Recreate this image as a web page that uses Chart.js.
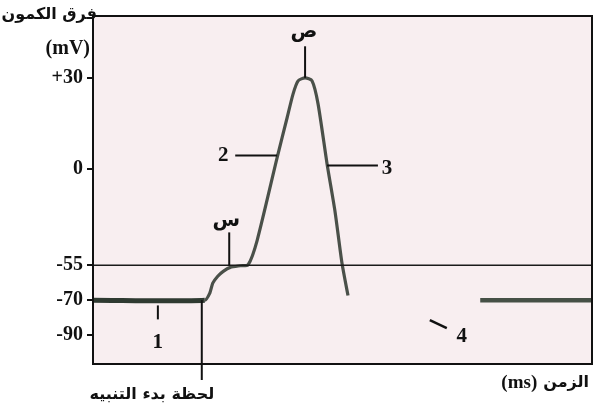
<!DOCTYPE html>
<html>
<head>
<meta charset="utf-8">
<script src="https://cdn.jsdelivr.net/npm/chart.js@4/dist/chart.umd.min.js"></script>
<style>
  html, body { margin: 0; padding: 0; background: #ffffff; }
  #wrap { width: 598px; height: 410px; }
</style>
</head>
<body>
<div id="wrap"><canvas id="c" width="598" height="410"></canvas></div>
<script>
// Action potential trace (time in ms, membrane potential in mV)
const TIME_MS = [0, 22.4, 23.4, 24.0, 25.0, 26.1, 27.5, 29.5, 31.1, 32.9, 36.9, 38.9, 40.1, 41.1, 42.5, 43.9, 45.1, 46.9, 48.5, 49.9, 51.1];
const POTENTIAL_MV = [-70, -70, -67, -62.7, -59.7, -57.6, -55.9, -55.2, -54.7, -40.8, 3.6, 16.8, 24.7, 29.0, 30, 29.0, 21.4, 1.6, -24.4, -53.9, -68];

// Return to rest after the hyperpolarisation phase
const RECOVERY_TIME_MS = [77.6, 100];
const RECOVERY_MV = [-70, -70];

// Threshold potential
const THRESHOLD_MV = -55;
const THRESHOLD_SPAN_MS = [0, 100];

// Stimulation moment
const STIMULUS_MS = 21.8;

// Labelled potentials on the vertical axis
const Y_TICKS = [30, 0, -55, -70, -90];

const AXIS_TITLE_Y = 'فرق الكمون';
const AXIS_UNIT_Y = '(mV)';
const AXIS_TITLE_X = 'الزمن';
const AXIS_UNIT_X = '(ms)';
const STIMULUS_LABEL = 'لحظة بدء التنبيه';

const SERIF = '"Liberation Serif", "Times New Roman", serif';
const ARABIC = '"DejaVu Sans", sans-serif';

// Schematic (non-uniform) voltage axis: piecewise-linear between labelled potentials
class PiecewiseScale extends Chart.LinearScale {
  _pw() {
    const b = this.options.breaks;
    return { v: b.values, d: b.decimals };
  }
  toDecimal(value) {
    const { v, d } = this._pw();
    let i = 0;
    if (value <= v[0]) i = 0;
    else if (value >= v[v.length - 1]) i = v.length - 2;
    else { while (i < v.length - 2 && value > v[i + 1]) i++; }
    const t = (value - v[i]) / (v[i + 1] - v[i]);
    return d[i] + t * (d[i + 1] - d[i]);
  }
  fromDecimal(dec) {
    const { v, d } = this._pw();
    let i = 0;
    if (dec <= d[0]) i = 0;
    else if (dec >= d[d.length - 1]) i = d.length - 2;
    else { while (i < d.length - 2 && dec > d[i + 1]) i++; }
    const t = (dec - d[i]) / (d[i + 1] - d[i]);
    return v[i] + t * (v[i + 1] - v[i]);
  }
  getPixelForValue(value) {
    return this.getPixelForDecimal(this.toDecimal(value));
  }
  getValueForPixel(pixel) {
    return this.fromDecimal(this.getDecimalForPixel(pixel));
  }
}
PiecewiseScale.id = 'piecewise';
PiecewiseScale.defaults = Chart.LinearScale.defaults;
Chart.register(PiecewiseScale);

const toPoints = (xs, ys) => xs.map((x, i) => ({ x, y: ys[i] }));

const decor = {
  id: 'decor',
  beforeDraw(chart) {
    const { ctx, chartArea: a } = chart;
    ctx.save();
    ctx.fillStyle = '#ffffff';
    ctx.fillRect(0, 0, chart.width, chart.height);
    ctx.fillStyle = '#f8eef0';
    ctx.fillRect(a.left, a.top, a.right - a.left, a.bottom - a.top);
    ctx.restore();
  },
  afterDraw(chart) {
    const { ctx, chartArea: a, scales } = chart;
    const X = v => scales.x.getPixelForValue(v);
    const Y = v => scales.y.getPixelForValue(v);
    ctx.save();

    // frame
    ctx.strokeStyle = '#111111';
    ctx.lineWidth = 2;
    ctx.strokeRect(a.left, a.top, a.right - a.left, a.bottom - a.top);

    // stimulation marker
    ctx.lineWidth = 2;
    ctx.beginPath();
    ctx.moveTo(X(STIMULUS_MS), Y(-70));
    ctx.lineTo(X(STIMULUS_MS), a.bottom + 16);
    ctx.stroke();

    const seg = (x1, y1, x2, y2, w) => {
      ctx.lineWidth = w || 2;
      ctx.beginPath();
      ctx.moveTo(X(x1), Y(y1));
      ctx.lineTo(X(x2), Y(y2));
      ctx.stroke();
    };
    // leader lines
    seg(13, -73, 13, -81);             // 1
    seg(28.5, 4.3, 36.9, 4.3);         // 2
    seg(46.9, 1.0, 57.1, 1.0);         // 3
    seg(67.5, -81.4, 70.9, -86, 2.5);  // 4
    seg(27.3, -36.3, 27.3, -55);       // س
    seg(42.5, 40.2, 42.5, 30);         // ص

    ctx.fillStyle = '#111111';
    ctx.textAlign = 'center';
    ctx.textBaseline = 'middle';
    ctx.font = 'bold 21px ' + SERIF;
    ctx.fillText('1', X(13), Y(-94.5));
    ctx.fillText('2', X(26.1), Y(4.3));
    ctx.fillText('3', X(58.9), Y(0));
    ctx.fillText('4', X(73.9), Y(-91));

    ctx.font = 'bold 20px ' + ARABIC;
    ctx.fillText('س', X(26.7), Y(-29.5));
    ctx.fillText('ص', X(42.3), Y(44.8));

    // axis titles
    ctx.font = 'bold 16px ' + ARABIC;
    ctx.textAlign = 'right';
    ctx.fillText(AXIS_TITLE_Y, 97, 15);
    ctx.font = 'bold 20px ' + SERIF;
    ctx.fillText(AXIS_UNIT_Y, 90, 49);

    ctx.font = 'bold 16px ' + ARABIC;
    ctx.textAlign = 'right';
    ctx.fillText(AXIS_TITLE_X, 589, a.bottom + 19);
    const wTitle = ctx.measureText(AXIS_TITLE_X).width;
    ctx.font = 'bold 19px ' + SERIF;
    ctx.fillText(AXIS_UNIT_X, 589 - wTitle - 6, a.bottom + 19);

    ctx.font = 'bold 16px ' + ARABIC;
    ctx.textAlign = 'center';
    ctx.fillText(STIMULUS_LABEL, X(11.8), a.bottom + 31);

    ctx.restore();
  }
};

new Chart(document.getElementById('c'), {
  type: 'line',
  data: {
    datasets: [
      {
        data: toPoints(THRESHOLD_SPAN_MS, [THRESHOLD_MV, THRESHOLD_MV]),
        borderColor: '#1a1a1a',
        borderWidth: 1.6,
        pointRadius: 0,
        tension: 0
      },
      {
        data: toPoints(TIME_MS, POTENTIAL_MV),
        borderColor: '#4a5049',
        borderWidth: 3.2,
        pointRadius: 0,
        tension: 0.22,
        segment: {
          borderWidth: c => (c.p0DataIndex === 0 ? 5 : 3.2),
          borderColor: c => (c.p0DataIndex === 0 ? '#2f3a31' : '#4a5049')
        }
      },
      {
        data: toPoints(RECOVERY_TIME_MS, RECOVERY_MV),
        borderColor: '#465046',
        borderWidth: 4.5,
        pointRadius: 0,
        tension: 0
      }
    ]
  },
  options: {
    responsive: false,
    animation: false,
    devicePixelRatio: 1,
    layout: { padding: { top: 15, right: 6, bottom: 46, left: 0 } },
    plugins: { legend: { display: false }, tooltip: { enabled: false } },
    scales: {
      x: {
        type: 'linear',
        display: false,
        min: 0,
        max: 100
      },
      y: {
        type: 'piecewise',
        min: -107,
        max: 50,
        breaks: {
          values:   [-107, -90,    -70,    -55,    0,      30,     50],
          decimals: [0,    0.0831, 0.1834, 0.2837, 0.5616, 0.8223, 1]
        },
        afterBuildTicks: s => { s.ticks = Y_TICKS.map(v => ({ value: v })); },
        afterFit: s => { s.width = 93; },
        border: { display: false },
        grid: {
          drawOnChartArea: false,
          drawTicks: true,
          tickLength: 6,
          color: '#111111',
          lineWidth: 2
        },
        ticks: {
          padding: 4,
          color: '#111111',
          font: { family: SERIF, size: 20, weight: 'bold' },
          callback: v => (v > 0 ? '+' + v : String(v))
        }
      }
    }
  },
  plugins: [decor]
});
</script>
</body>
</html>
